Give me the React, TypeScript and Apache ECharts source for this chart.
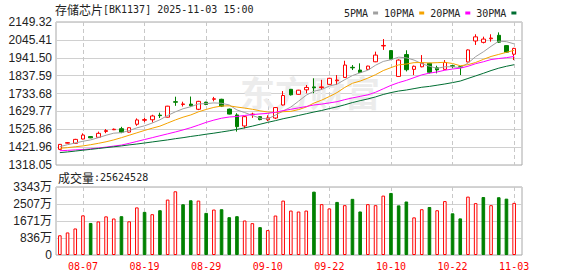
import React, { useEffect, useRef } from "react";
import * as echarts from "echarts";

const dates = [
  "08-04","08-05","08-06","08-07","08-08","08-11","08-12","08-13","08-14","08-15",
  "08-18","08-19","08-20","08-21","08-22","08-25","08-26","08-27","08-28","08-29",
  "09-01","09-02","09-03","09-04","09-05","09-08","09-09","09-10","09-11","09-12",
  "09-15","09-16","09-17","09-18","09-19","09-22","09-23","09-24","09-25","09-26",
  "09-29","09-30","10-09","10-10","10-13","10-14","10-15","10-16","10-17","10-20",
  "10-21","10-22","10-23","10-24","10-27","10-28","10-29","10-30","10-31","11-03",
];

const opens = [
  1409,1445,1444,1469,1483,1479,1513,1523,1529,1509,
  1555,1578,1581,1608,1596,1686,1670,1672,1642,1683,
  1700,1700,1643,1609,1545,1611,1599,1581,1591,1667,
  1758,1729,1755,1772,1768,1787,1808,1827,1886,1870,
  1874,1918,2010,1983,1833,1960,1874,1889,1909,1883,
  1874,1895,1889,1917,2039,2031,2052,2072,2012,1962,
];
const closes = [
  1438,1448,1467,1492,1476,1502,1518,1526,1509,1535,
  1580,1582,1603,1605,1660,1683,1673,1662,1688,1670,
  1703,1660,1614,1541,1599,1614,1582,1592,1652,1722,
  1726,1753,1769,1767,1772,1822,1812,1899,1883,1856,
  1893,1957,2013,1933,1928,1872,1892,1909,1857,1871,
  1914,1892,1886,1987,2063,2050,2056,2032,1974,1996,
];
const lows = [
  1405,1443,1440,1467,1474,1476,1503,1521,1503,1506,
  1546,1567,1565,1591,1594,1662,1658,1657,1637,1666,
  1688,1655,1612,1512,1531,1592,1578,1573,1585,1664,
  1722,1727,1735,1735,1755,1785,1783,1825,1870,1854,
  1872,1916,1987,1930,1830,1862,1841,1886,1850,1851,
  1872,1880,1841,1915,2016,2025,2035,2028,1970,1928,
];
const highs = [
  1440,1451,1470,1502,1485,1512,1527,1530,1540,1537,
  1589,1593,1610,1622,1662,1715,1686,1716,1691,1686,
  1714,1703,1646,1619,1602,1622,1602,1607,1655,1748,
  1760,1755,1783,1822,1813,1825,1841,1924,1899,1909,
  1895,1977,2050,1985,1932,1985,1896,1957,1912,1895,
  1928,1900,1893,1990,2078,2064,2078,2089,2014,1999,
];

const ma5 = [
  1425,1436,1446,1456,1464,1477,1491,1503,1506,1518,
  1534,1546,1562,1581,1606,1627,1645,1657,1673,1675,
  1679,1677,1667,1638,1623,1606,1590,1586,1608,1632,
  1655,1689,1724,1747,1757,1777,1788,1814,1838,1854,
  1869,1898,1920,1930,1945,1941,1928,1907,1892,1880,
  1889,1889,1884,1910,1948,1976,2008,2038,2035,2022,
];
const ma10 = [
  1415,1419,1424,1429,1436,1444,1453,1464,1477,1491,
  1505,1519,1532,1544,1562,1580,1596,1609,1627,1641,
  1653,1661,1662,1655,1649,1642,1633,1626,1623,1628,
  1630,1640,1655,1678,1695,1716,1739,1769,1793,1806,
  1823,1843,1867,1884,1900,1905,1913,1914,1911,1913,
  1915,1908,1895,1901,1914,1932,1949,1961,1973,1985,
];
const ma20 = [
  1401,1403,1406,1408,1412,1417,1422,1428,1434,1444,
  1455,1466,1477,1488,1499,1510,1522,1535,1550,1566,
  1579,1590,1597,1600,1606,1611,1615,1618,1625,1634,
  1642,1650,1658,1667,1672,1679,1686,1698,1708,1717,
  1726,1741,1761,1781,1797,1810,1826,1842,1852,1859,
  1869,1876,1881,1892,1907,1918,1931,1937,1942,1949,
];
const ma30 = [
  1390,1394,1399,1404,1409,1414,1419,1424,1429,1435,
  1440,1446,1452,1458,1464,1471,1477,1484,1490,1497,
  1503,1510,1517,1525,1534,1544,1555,1566,1576,1587,
  1596,1606,1616,1626,1635,1646,1656,1668,1681,1692,
  1702,1714,1728,1739,1748,1754,1762,1770,1775,1782,
  1789,1797,1806,1821,1836,1851,1867,1881,1892,1901,
];

// volume in 万
const volumes = [
  970,1109,1305,1950,1575,1650,1900,1795,1908,1656,
  2340,2120,2006,2202,2724,3132,2495,2691,2675,2071,
  2235,2251,1859,1908,1696,1566,1370,1223,1941,2675,
  2185,2137,2185,3115,2500,2290,2610,2450,2760,2140,
  2500,2450,2920,3050,2440,2630,1850,2250,2360,2200,
  2650,2050,1800,2870,2550,2850,2450,2840,2770,2562.45,
];
// 1 = red hollow (up), 0 = green filled (down), as drawn
const volUp = [
  1,1,1,1,0,1,1,1,0,1,
  1,0,1,0,1,1,0,0,1,0,
  1,0,0,0,1,1,0,1,1,1,
  1,1,1,0,1,1,0,1,0,0,
  1,1,1,0,0,0,1,1,0,1,
  1,0,0,1,1,0,1,0,0,1,
];

const priceTickLabels = ["1318.05","1421.96","1525.86","1629.77","1733.68","1837.59","1941.50","2045.41","2149.32"];
const volTickLabels = ["0","836万","1671万","2507万","3343万"];
const priceMin = 1318.05;
const priceMax = 2149.32;
const volMax = 3342.8;
const labelDates = ["08-07","08-19","08-29","09-10","09-22","10-10","10-22","11-03"];

const maNames = ["5PMA", "10PMA", "20PMA", "30PMA"];
const maColors = ["#a0a0a0", "#f5a300", "#ff00ff", "#006e32"];
const maData = [ma5, ma10, ma20, ma30];

const RED = "#ff0000";
const GREEN = "#008000";
const MONO = "DejaVu Sans Mono";
const CJK = "Noto Sans CJK SC";

export default function App() {
  const ref = useRef<HTMLDivElement>(null);
  useEffect(() => {
    if (!ref.current) return;
    const chart = echarts.init(ref.current, undefined, { renderer: "svg" });
    const showIdx = (i: number) => labelDates.indexOf(dates[i]) >= 0;
    const gridL = 56, gridW = 466;
    const dataL = 59.85, dataW = 454.3;
    const pTop = 22, pH = 143, vTop = 187, vH = 68;
    const option: any = {
      animation: false,
      backgroundColor: "#ffffff",
      legend: {
        left: 339,
        top: 3,
        align: "right",
        icon: "rect",
        itemWidth: 5,
        itemHeight: 3,
        itemGap: 6,
        selectedMode: false,
        textStyle: { fontFamily: MONO, fontSize: 10, color: "#222" },
        data: maNames,
      },
      graphic: [
        {
          type: "text",
          x: 55,
          y: 9,
          style: {
            text: "{a|存储芯片}{b|[BK1137] 2025-11-03 15:00}",
            verticalAlign: "middle",
            rich: {
              a: { fontFamily: CJK, fontSize: 12, fill: "#222" },
              b: { fontFamily: MONO, fontSize: 10, fill: "#222" },
            },
          },
        },
        {
          type: "text",
          x: 58,
          y: 177,
          style: {
            text: "{a|成交量}{b|:25624528}",
            verticalAlign: "middle",
            rich: {
              a: { fontFamily: CJK, fontSize: 12, fill: "#222" },
              b: { fontFamily: MONO, fontSize: 10, fill: "#222" },
            },
          },
        },
        {
          type: "text",
          x: 240,
          y: 74,
          z: 1,
          silent: true,
          style: {
            text: "东方财富",
            fontFamily: CJK,
            fontSize: 35,
            fontWeight: "bold",
            fill: "#ececec",
          },
        },
      ],
      grid: [
        { left: gridL, top: pTop, width: gridW, height: pH, show: true, borderColor: "#a8a8a8", borderWidth: 1 },
        { left: dataL, top: pTop, width: dataW, height: pH },
        { left: gridL, top: vTop, width: gridW, height: vH, show: true, borderColor: "#a8a8a8", borderWidth: 1 },
        { left: dataL, top: vTop, width: dataW, height: vH },
      ],
      xAxis: [
        { gridIndex: 0, type: "value", min: 0, max: 1, show: false },
        {
          gridIndex: 1,
          type: "category",
          data: dates,
          boundaryGap: false,
          axisLine: { show: false },
          axisTick: { show: false },
          axisLabel: { show: false },
          splitLine: { show: true, interval: (i: number) => showIdx(i), lineStyle: { color: "#c8c8c8", type: [4, 3] } },
        },
        { gridIndex: 2, type: "value", min: 0, max: 1, show: false },
        {
          gridIndex: 3,
          type: "category",
          data: dates,
          boundaryGap: false,
          axisLine: { show: false },
          axisTick: { show: false },
          axisLabel: {
            show: true,
            interval: (i: number) => showIdx(i),
            color: RED,
            fontFamily: MONO,
            fontSize: 10,
            margin: 6,
          },
          splitLine: { show: true, interval: (i: number) => showIdx(i), lineStyle: { color: "#c8c8c8", type: [4, 3] } },
        },
      ],
      yAxis: [
        {
          gridIndex: 0,
          type: "value",
          min: 0,
          max: priceTickLabels.length - 1,
          interval: 1,
          axisLine: { show: false },
          axisTick: { show: false },
          axisLabel: {
            formatter: (v: number) => priceTickLabels[Math.round(v)],
            color: "#222",
            fontFamily: "Liberation Sans",
            fontSize: 12,
            margin: 4,
          },
          splitLine: { lineStyle: { color: "#d0d0d0" } },
        },
        { gridIndex: 1, type: "value", min: priceMin, max: priceMax, show: false },
        {
          gridIndex: 2,
          type: "value",
          min: 0,
          max: volTickLabels.length - 1,
          interval: 1,
          axisLine: { show: false },
          axisTick: { show: false },
          axisLabel: {
            formatter: (v: number) => volTickLabels[Math.round(v)],
            color: "#222",
            fontFamily: "Liberation Sans, " + CJK,
            fontSize: 12,
            margin: 4,
          },
          splitLine: { lineStyle: { color: "#d0d0d0" } },
        },
        { gridIndex: 3, type: "value", min: 0, max: volMax, show: false },
      ],
      series: [
        {
          type: "candlestick",
          xAxisIndex: 1,
          yAxisIndex: 1,
          barWidth: 4,
          clip: false,
          data: dates.map((_, i) => [opens[i], closes[i], lows[i], highs[i]]),
          itemStyle: {
            color: "#ffffff",
            color0: GREEN,
            borderColor: RED,
            borderColor0: GREEN,
            borderWidth: 1,
          },
        },
        ...maNames.map((name, k) => ({
          name,
          type: "line",
          xAxisIndex: 1,
          yAxisIndex: 1,
          data: maData[k],
          symbol: "none",
          clip: false,
          itemStyle: { color: maColors[k] },
          lineStyle: { color: maColors[k], width: 1 },
          z: 3,
        })),
        {
          type: "bar",
          xAxisIndex: 3,
          yAxisIndex: 3,
          barWidth: 3.6,
          clip: false,
          data: volumes.map((v, i) => ({
            value: v,
            itemStyle: volUp[i]
              ? { color: "#ffffff", borderColor: RED, borderWidth: 1 }
              : { color: GREEN, borderColor: GREEN, borderWidth: 1 },
          })),
        },
      ],
    };
    chart.setOption(option);
    return () => chart.dispose();
  }, []);
  return (
    <div
      ref={ref}
      style={{ position: "absolute", left: 0, top: 0, width: 578, height: 276 }}
    />
  );
}
